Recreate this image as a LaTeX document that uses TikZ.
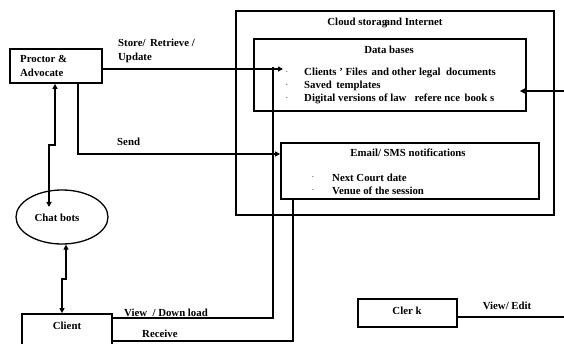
\documentclass[tikz,border=0pt]{standalone}
\usepackage{fontspec}
\setmainfont{Liberation Serif}
\usetikzlibrary{arrows.meta,shapes.geometric}
\tikzset{
  box/.style={draw, line width=1.8pt, rectangle, inner sep=0pt},
  conn/.style={line width=1.8pt},
  arr/.style={conn, -{Triangle[length=5pt,width=5pt]}},
  darr/.style={conn, {Triangle[length=5pt,width=5pt]}-{Triangle[length=5pt,width=5pt]}},
  lbl/.style={font=\bfseries\fontsize{10.8}{12}\selectfont, inner sep=0pt},
  lbll/.style={lbl, anchor=west},
  dot/.style={font=\fontsize{8}{9}\selectfont, inner sep=0pt},
}
\begin{document}
\begin{tikzpicture}[x=1pt,y=-1pt]
\clip (0,0) rectangle (564,344);
\fill[white] (0,0) rectangle (564,344);
% outer cloud box
\node[box, minimum width=318pt, minimum height=204pt] (cloud) at (395,113) {};
\node[lbl] (cloudt) at (385,23) {Cloud storag\kern-2.5pt and Internet};
% databases box
\node[box, minimum width=272pt, minimum height=72pt] (db) at (390,75) {};
\node[lbl] (dbt) at (389,50) {Data bases};
\node[dot] (b1) at (287,73) {\textperiodcentered};
\node[dot] (b2) at (287,86) {\textperiodcentered};
\node[dot] (b3) at (287,99) {\textperiodcentered};
\node[lbll] (d1) at (304,73) {Clients ' Files\, and other legal \ documents};
\node[lbll] (d2) at (304,86) {Saved\, templates};
\node[lbll] (d3) at (304,99) {Digital versions of law \ \ refere nce\, book s};
% email box
\node[box, minimum width=258pt, minimum height=56pt] (em) at (410,171) {};
\node[lbl] (emt) at (408,153) {Email/ SMS notifications};
\node[dot] (e1b) at (313,178) {\textperiodcentered};
\node[dot] (e2b) at (313,191) {\textperiodcentered};
\node[lbll] (e1) at (332,178) {Next Court date};
\node[lbll] (e2) at (332,191) {Venue of the session};
% proctor
\node[box, minimum width=92pt, minimum height=34pt] (p) at (56,66) {};
\node[lbll] (pt1) at (20,59) {Proctor \&};
\node[lbll] (pt2) at (20,73) {Advocate};
% chatbots
\node[draw, line width=1.3pt, ellipse, minimum width=92pt, minimum height=54pt, inner sep=0pt] (cb) at (62,217) {};
\node[lbl] (cbt) at (57,218) {Chat bots};
% client
\node[box, minimum width=90pt, minimum height=50pt] (cl) at (67,339) {};
\node[lbl] (clt) at (67,326) {Client};
% clerk
\node[box, minimum width=99pt, minimum height=28pt] (ck) at (407.5,313) {};
\node[lbl] (ckt) at (407,311) {Cler k};
\coordinate (ckend) at (566,317);
\node[lbl] (cke) at (507,306) {View/ Edit};
% right incoming arrow
\coordinate (rin) at (566,91);
\draw[arr] (rin) -- ([xshift=-7pt]rin -| db.east);
% connectors
\coordinate (storetip) at (283,69);
\draw[conn] (cl.east |- 0,318) -- (273,318) -- (273,67);
\draw[arr] (p.east |- 0,69) -- (storetip);
\node[lbll] (st1) at (118,43) {Store/\, Retrieve /};
\node[lbll] (st2) at (118,58) {Update};
\draw[arr] (p.south -| 78,0) -- (78,154) -- (em.west |- 0,154);
\node[lbll] (sd) at (117,142) {Send};
\draw[darr] (p.south -| 55,0) -- (55,145) -- (49,145) -- (49,207);
\draw[darr] (cb.south -| 66,0) -- (66,279) -- (62,279) -- (cl.north -| 62,0);
\draw[conn] (cl.east |- 0,341) -- (293,341) -- (em.south -| 293,0);
\node[lbll] (vd) at (124,313) {View \ / Down load};
\node[lbll] (rc) at (142,334) {Receive};
\draw[conn] (ck.east |- 0,317) -- (ckend);
\end{tikzpicture}
\end{document}
